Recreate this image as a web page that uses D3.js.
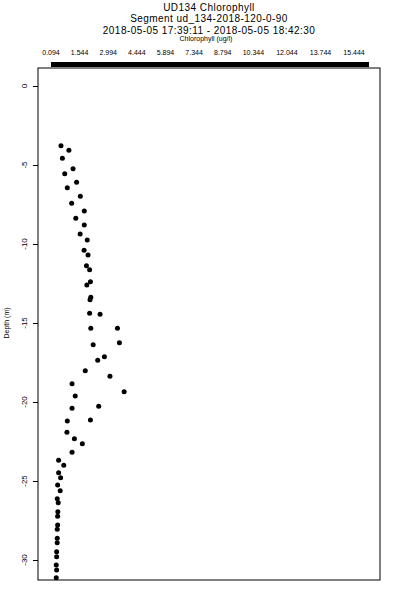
<!DOCTYPE html>
<html>
<head>
<meta charset="utf-8">
<script src="https://cdn.jsdelivr.net/npm/d3@7"></script>
<style>
  html, body { margin: 0; padding: 0; background: #fff; }
  svg { display: block; }
  text { font-family: "Liberation Sans", Arial, Helvetica, sans-serif; fill: #000; }
</style>
</head>
<body>
<svg id="chart" width="400" height="600"></svg>
<script>
// ---- data ----
const titleLines = ["UD134 Chlorophyll", "Segment ud_134-2018-120-0-90", "2018-05-05 17:39:11 - 2018-05-05 18:42:30"];
const xLabel = "Chlorophyll (ug/l)";
const yLabel = "Depth (m)";
const xTickValues = [0.094, 1.544, 2.994, 4.444, 5.894, 7.344, 8.794, 10.344, 12.044, 13.744, 15.444];
const yTickValues = [0, -5, -10, -15, -20, -25, -30];
const chlorophyll = [0.60, 1.00, 0.67, 1.21, 0.79, 1.39, 0.92, 1.58, 1.14, 1.78, 1.35, 1.78, 1.57, 1.93, 1.77, 1.97,
  1.89, 2.05, 2.09, 1.91, 2.11, 2.07, 2.05, 2.58, 2.11, 3.46, 2.23, 3.56, 2.80, 2.46, 1.83, 3.08, 1.16, 3.80, 1.32,
  2.51, 1.16, 2.09, 0.92, 0.90, 1.28, 1.68, 1.16, 0.48, 0.74, 0.48, 0.58, 0.43, 0.56, 0.41, 0.46, 0.44, 0.43, 0.43,
  0.41, 0.41, 0.41, 0.38, 0.38, 0.36, 0.38, 0.36];
const depth = [-3.78, -4.07, -4.58, -5.23, -5.55, -6.09, -6.44, -6.98, -7.42, -7.91, -8.37, -8.80, -9.37, -9.75,
  -10.40, -10.70, -11.37, -11.63, -12.39, -12.59, -13.37, -13.53, -14.39, -14.45, -15.34, -15.34, -16.37, -16.25,
  -17.13, -17.36, -18.02, -18.37, -18.84, -19.35, -19.62, -20.27, -20.40, -21.14, -21.20, -21.92, -22.32, -22.64,
  -23.18, -23.69, -24.01, -24.47, -24.79, -25.25, -25.61, -26.12, -26.37, -26.94, -27.23, -27.78, -28.06, -28.63,
  -28.91, -29.47, -29.79, -30.32, -30.63, -31.12];
const xTickStep = 0.05;
const xMax = 16.15;

// ---- layout ----
const frame = { left: 38, right: 380, top: 68, bottom: 580 };
const svg = d3.select("#chart");

const x = d3.scaleLinear().domain([0.094, xMax]).range([51, 368]);
const y = d3.scaleLinear().domain([0, -30]).range([86, 560]);

// titles
const titleY = [11, 22, 33.5];
titleLines.forEach((t, i) => {
  svg.append("text").attr("x", 209).attr("y", titleY[i])
    .attr("text-anchor", "middle").style("font-size", "10px")
    .style("letter-spacing", "0.45px").text(t);
});
svg.append("text").attr("x", 206).attr("y", 40.5)
  .attr("text-anchor", "middle").style("font-size", "7px").text(xLabel);

// top axis: dense ticks forming the bar
const denseTicks = d3.range(0.094, xMax + 1e-9, xTickStep);
const topAxis = d3.axisTop(x).tickValues(denseTicks).tickSize(5).tickFormat("");
const gTop = svg.append("g").attr("transform", "translate(0,67)").call(topAxis);
gTop.select(".domain").remove();
gTop.selectAll(".tick line").attr("stroke", "#000").attr("stroke-width", 2)
  .attr("shape-rendering", "crispEdges");

// top tick labels
svg.append("g").selectAll("text").data(xTickValues).join("text")
  .attr("x", d => x(d)).attr("y", 55)
  .attr("text-anchor", "middle").style("font-size", "7px")
  .text(d => d3.format(".3f")(d));

// frame
svg.append("rect").attr("x", frame.left).attr("y", frame.top)
  .attr("width", frame.right - frame.left).attr("height", frame.bottom - frame.top)
  .attr("fill", "none").attr("stroke", "#000").attr("stroke-width", 1);

// left axis
const leftAxis = d3.axisLeft(y).tickValues(yTickValues).tickSize(5).tickFormat("");
const gLeft = svg.append("g").attr("transform", `translate(${frame.left},0)`).call(leftAxis);
gLeft.select(".domain").remove();
gLeft.selectAll(".tick line").attr("stroke", "#000");
svg.append("g").selectAll("text").data(yTickValues).join("text")
  .attr("transform", d => `translate(27,${y(d)}) rotate(-90)`)
  .attr("text-anchor", "middle").style("font-size", "8px")
  .text(d => d);

svg.append("text").attr("transform", `translate(9,323) rotate(-90)`)
  .attr("text-anchor", "middle").style("font-size", "7px").text(yLabel);

// points
svg.append("g").selectAll("circle").data(depth.map((d, i) => [chlorophyll[i], d])).join("circle")
  .attr("cx", d => x(d[0])).attr("cy", d => y(d[1])).attr("r", 2.5).attr("fill", "#000");
</script>
</body>
</html>
